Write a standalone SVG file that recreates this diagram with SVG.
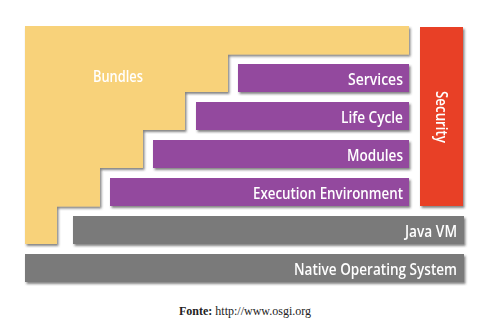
<svg xmlns="http://www.w3.org/2000/svg" width="488" height="321" viewBox="0 0 488 321">
  <defs>
    <filter id="shadow" x="-5%" y="-10%" width="115%" height="130%">
      <feDropShadow dx="1.5" dy="2" stdDeviation="1" flood-color="#333" flood-opacity="0.6"/>
    </filter>
  </defs>
  <style>
    .layer { filter: url(#shadow); }
    .bundles { fill: #F8D27A; }
    .purple { fill: #934A9E; }
    .grey { fill: #7A7A7A; }
    .red { fill: #E84025; }
    .lbl { font-family: "Open Sans", "Liberation Sans", sans-serif; font-size: 17px; font-weight: 600; fill: #FFFFFF; }
    .end { text-anchor: end; }
    .cap { font-family: "Liberation Serif", serif; font-size: 12px; fill: #222; }
  </style>
  <rect width="488" height="321" fill="#FFFFFF"/>

  <!-- stepped bundles block -->
  <g id="bundles" class="layer">
    <path class="bundles" d="M25 26 H409 V54.5 H228 V92 H185 V130 H143 V168 H100 V206.5 H57 V244 H25 Z"/>
    <text class="lbl" x="93" y="82" textLength="50" lengthAdjust="spacingAndGlyphs">Bundles</text>
  </g>

  <g id="services" class="layer">
    <rect class="purple" x="238" y="64" width="171" height="28"/>
    <text class="lbl end" x="403" y="85" textLength="55" lengthAdjust="spacingAndGlyphs">Services</text>
  </g>

  <g id="lifecycle" class="layer">
    <rect class="purple" x="196" y="102" width="213" height="28"/>
    <text class="lbl end" x="403" y="123" textLength="62" lengthAdjust="spacingAndGlyphs">Life Cycle</text>
  </g>

  <g id="modules" class="layer">
    <rect class="purple" x="153" y="140" width="256" height="28"/>
    <text class="lbl end" x="403" y="161" textLength="56" lengthAdjust="spacingAndGlyphs">Modules</text>
  </g>

  <g id="execution-environment" class="layer">
    <rect class="purple" x="110" y="178" width="299" height="28"/>
    <text class="lbl end" x="403" y="199" textLength="150" lengthAdjust="spacingAndGlyphs">Execution Environment</text>
  </g>

  <g id="security" class="layer">
    <rect class="red" x="420" y="27" width="43" height="179"/>
    <text class="lbl" text-anchor="middle" transform="translate(435.5 117) rotate(90)" textLength="52" lengthAdjust="spacingAndGlyphs">Security</text>
  </g>

  <g id="java-vm" class="layer">
    <rect class="grey" x="73" y="216" width="391" height="28"/>
    <text class="lbl end" x="457" y="237" textLength="52" lengthAdjust="spacingAndGlyphs">Java VM</text>
  </g>

  <g id="native-os" class="layer">
    <rect class="grey" x="25" y="254" width="439" height="28"/>
    <text class="lbl" x="294" y="275" font-size="16" textLength="163" lengthAdjust="spacingAndGlyphs">Native Operating System</text>
  </g>

  <g id="connectors"/>

  <text class="cap" x="179" y="315"><tspan font-weight="bold">Fonte:</tspan> http://www.osgi.org</text>
</svg>
